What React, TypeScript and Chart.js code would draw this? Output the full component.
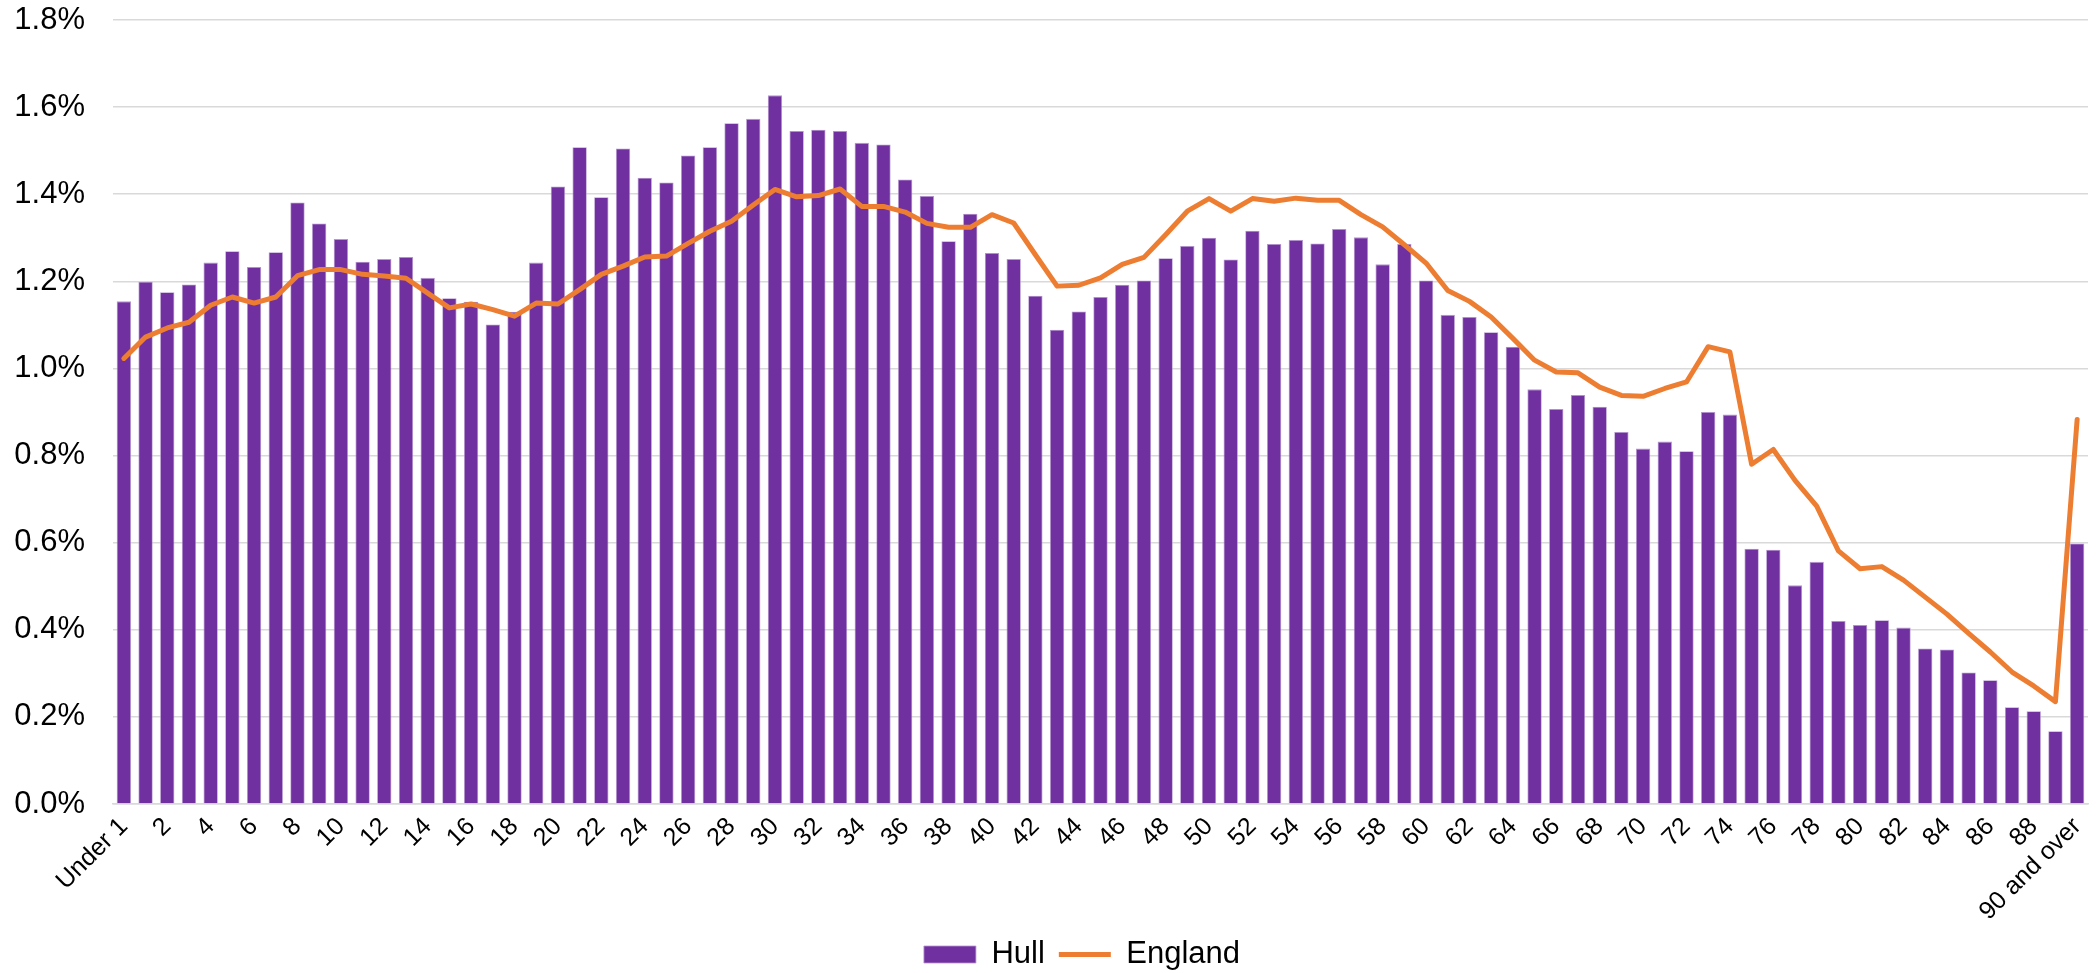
import React, { useEffect, useRef } from "react";
import { Chart, registerables } from "chart.js";

Chart.register(...registerables);

const ageLabels = [
  "Under 1", "1", "2", "3", "4", "5", "6", "7", "8", "9",
  "10", "11", "12", "13", "14", "15", "16", "17", "18", "19",
  "20", "21", "22", "23", "24", "25", "26", "27", "28", "29",
  "30", "31", "32", "33", "34", "35", "36", "37", "38", "39",
  "40", "41", "42", "43", "44", "45", "46", "47", "48", "49",
  "50", "51", "52", "53", "54", "55", "56", "57", "58", "59",
  "60", "61", "62", "63", "64", "65", "66", "67", "68", "69",
  "70", "71", "72", "73", "74", "75", "76", "77", "78", "79",
  "80", "81", "82", "83", "84", "85", "86", "87", "88", "89",
  "90 and over",
];

const hullValues = [
  1.154, 1.199, 1.175, 1.193, 1.243, 1.269, 1.233, 1.267, 1.381, 1.333,
  1.297, 1.245, 1.251, 1.256, 1.208, 1.161, 1.153, 1.101, 1.130, 1.243,
  1.418, 1.508, 1.393, 1.505, 1.438, 1.427, 1.489, 1.508, 1.563, 1.573,
  1.627, 1.545, 1.548, 1.545, 1.518, 1.514, 1.434, 1.396, 1.292, 1.355,
  1.265, 1.251, 1.167, 1.089, 1.131, 1.164, 1.192, 1.202, 1.253, 1.281,
  1.300, 1.250, 1.316, 1.286, 1.295, 1.287, 1.320, 1.301, 1.239, 1.286,
  1.202, 1.123, 1.118, 1.083, 1.050, 0.952, 0.907, 0.939, 0.912, 0.854,
  0.816, 0.832, 0.810, 0.900, 0.894, 0.586, 0.584, 0.502, 0.556, 0.420,
  0.411, 0.422, 0.405, 0.357, 0.355, 0.302, 0.284, 0.222, 0.213, 0.167,
  0.598,
];

const englandValues = [
  1.023, 1.072, 1.093, 1.106, 1.145, 1.164, 1.150, 1.164, 1.213, 1.227,
  1.227, 1.216, 1.212, 1.207, 1.173, 1.139, 1.148, 1.135, 1.120, 1.150,
  1.148, 1.181, 1.216, 1.235, 1.256, 1.258, 1.287, 1.315, 1.338, 1.375,
  1.411, 1.394, 1.397, 1.412, 1.372, 1.372, 1.359, 1.333, 1.324, 1.324,
  1.353, 1.334, 1.261, 1.189, 1.191, 1.208, 1.239, 1.255, 1.307, 1.361,
  1.390, 1.361, 1.390, 1.384, 1.391, 1.386, 1.386, 1.353, 1.325, 1.284,
  1.242, 1.179, 1.154, 1.118, 1.069, 1.019, 0.992, 0.990, 0.957, 0.938,
  0.936, 0.954, 0.969, 1.050, 1.038, 0.780, 0.814, 0.743, 0.684, 0.581,
  0.540, 0.545, 0.514, 0.475, 0.436, 0.392, 0.349, 0.303, 0.271, 0.235,
  0.883,
];

const seriesNames = ["Hull", "England"];
const yMin = 0;
const yMax = 1.8;
const yStep = 0.2;

const FONT = "'Liberation Sans', Arial, sans-serif";

const legendShift = {
  id: "legendShift",
  afterLayout(chart: any) {
    const lg = chart.legend;
    if (!lg) return;
    lg.left += 38;
    lg.right += 38;
    lg.top += 7;
    lg.bottom += 7;
  },
};

export default function App() {
  const canvasRef = useRef<HTMLCanvasElement | null>(null);

  useEffect(() => {
    const canvas = canvasRef.current;
    if (!canvas) return;
    const chart = new Chart(canvas, {
      type: "bar",
      data: {
        labels: ageLabels,
        datasets: [
          {
            type: "line",
            label: seriesNames[1],
            data: englandValues,
            borderColor: "#ED7D31",
            backgroundColor: "#ED7D31",
            borderWidth: 5,
            pointRadius: 0,
            pointHoverRadius: 0,
            pointStyle: "line",
            tension: 0,
            borderJoinStyle: "round",
            borderCapStyle: "round",
            order: 0,
          } as any,
          {
            type: "bar",
            label: seriesNames[0],
            data: hullValues,
            backgroundColor: "#7030A0",
            borderColor: "#B697CF",
            borderWidth: 0.8,
            pointStyle: "rect",
            categoryPercentage: 1,
            barPercentage: 0.66,
            order: 1,
          } as any,
        ],
      },
      plugins: [legendShift],
      options: {
        animation: false,
        responsive: true,
        maintainAspectRatio: false,
        layout: { padding: { left: 0, right: 10, top: 20, bottom: 0 } },
        plugins: {
          tooltip: { enabled: false },
          legend: {
            position: "bottom",
            reverse: true,
            labels: {
              usePointStyle: true,
              pointStyleWidth: 52,
              boxHeight: 17,
              padding: 14,
              color: "#000",
              font: { family: FONT, size: 31 },
            },
          },
        },
        scales: {
          x: {
            grid: { display: false, drawTicks: false },
            border: { display: true, color: "#D9D9D9", width: 1.5 },
            ticks: {
              autoSkip: false,
              maxRotation: 45,
              minRotation: 45,
              padding: 8,
              color: "#000",
              font: { family: FONT, size: 25 },
              callback: (_v: any, i: number) => (i % 2 === 0 ? ageLabels[i] : ""),
            },
            afterFit: (scale: any) => {
              scale.height = 114;
              scale.paddingRight = 0;
              scale.paddingLeft = 0;
            },
          },
          y: {
            min: yMin,
            max: yMax,
            grid: { color: "#D9D9D9", lineWidth: 1.5, drawTicks: false },
            border: { display: false },
            ticks: {
              stepSize: yStep,
              padding: 28,
              color: "#000",
              font: { family: FONT, size: 31 },
              callback: (v: any) => Number(v).toFixed(1) + "%",
            },
            afterFit: (scale: any) => {
              scale.width = 113;
              scale.paddingTop = 0;
              scale.paddingBottom = 0;
            },
          },
        },
      },
    });
    return () => chart.destroy();
  }, []);

  return (
    <div style={{ position: "fixed", left: 0, top: 0, width: 2098, height: 973, background: "#fff" }}>
      <canvas ref={canvasRef} />
    </div>
  );
}
